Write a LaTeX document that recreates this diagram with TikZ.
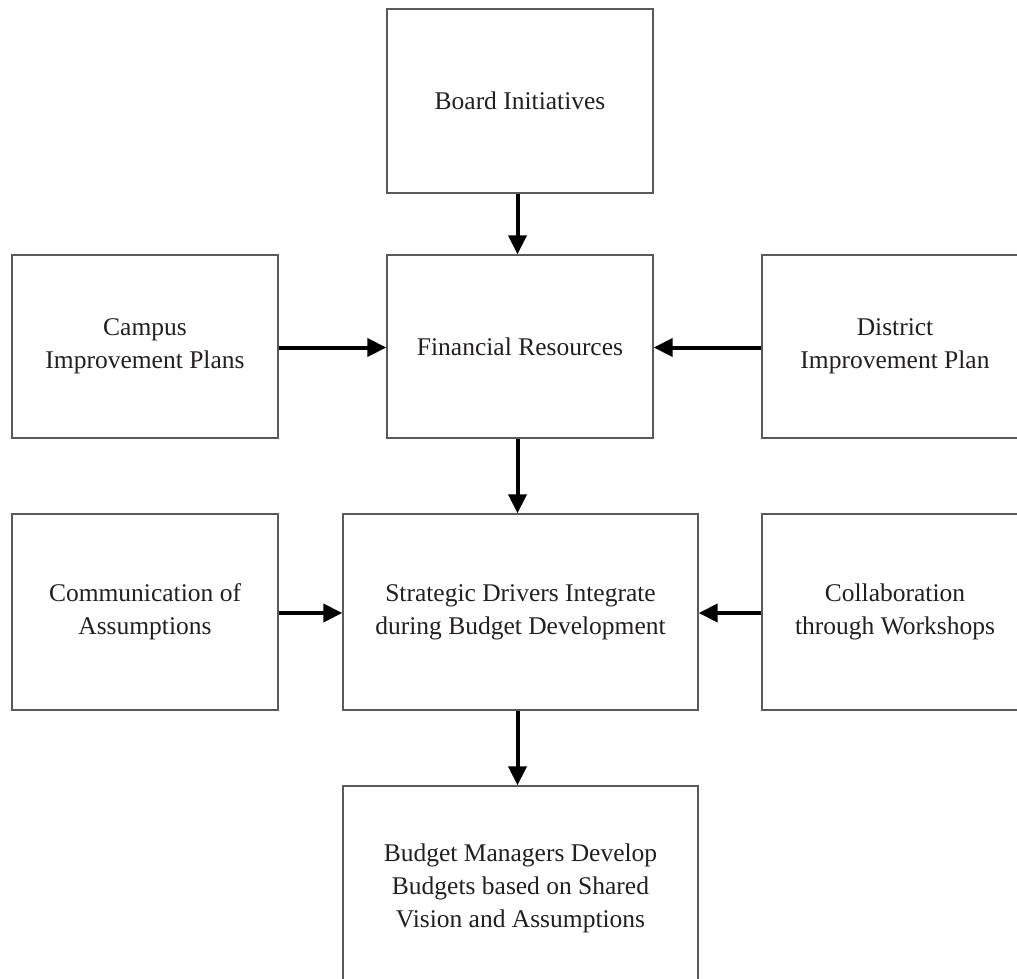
\documentclass[tikz,border=0pt]{standalone}
\usepackage{fontspec}
\setmainfont{Liberation Serif}
\usetikzlibrary{arrows.meta}
\definecolor{txt}{HTML}{231F20}
\definecolor{boxline}{HTML}{5A5A5A}
\tikzset{
  box/.style={draw=boxline, line width=1.4pt, rectangle, align=center, text=txt,
    font=\fontsize{25.5}{33}\selectfont, inner sep=0pt},
  conn/.style={line width=4pt, -{Triangle[length=19pt,width=18pt]}}
}
\begin{document}
\begin{tikzpicture}[x=1pt,y=-1pt]
\useasboundingbox (0,0) rectangle (1017,979);
\clip (0,0) rectangle (1017,979);
\node[box, minimum width=266pt, minimum height=184pt] (board) at (520,101) {Board Initiatives};
\node[box, minimum width=266pt, minimum height=183pt] (fin) at (520,346.5) {Financial Resources};
\node[box, minimum width=266pt, minimum height=183pt] (campus) at (145,346.5) {Campus\\Improvement Plans};
\node[box, minimum width=266pt, minimum height=183pt] (district) at (895,346.5) {District\\Improvement Plan};
\node[box, minimum width=355pt, minimum height=196pt] (strat) at (520.5,612) {Strategic Drivers Integrate\\during Budget Development};
\node[box, minimum width=266pt, minimum height=196pt] (comm) at (145,612) {Communication of\\Assumptions};
\node[box, minimum width=266pt, minimum height=196pt] (collab) at (895,612) {Collaboration\\through Workshops};
\node[box, minimum width=355pt, minimum height=204pt] (budget) at (520.5,888) {Budget Managers Develop\\Budgets based on Shared\\Vision and Assumptions};
\coordinate (ax) at (517.5,0);
\coordinate (y1) at (0,347.5);
\coordinate (y2) at (0,613);
\draw[conn] (board.south -| ax) -- (fin.north -| ax);
\draw[conn] (fin.south -| ax) -- (strat.north -| ax);
\draw[conn] (strat.south -| ax) -- (budget.north -| ax);
\draw[conn] (campus.east |- y1) -- (fin.west |- y1);
\draw[conn] (district.west |- y1) -- (fin.east |- y1);
\draw[conn] (comm.east |- y2) -- (strat.west |- y2);
\draw[conn] (collab.west |- y2) -- (strat.east |- y2);
\end{tikzpicture}
\end{document}
